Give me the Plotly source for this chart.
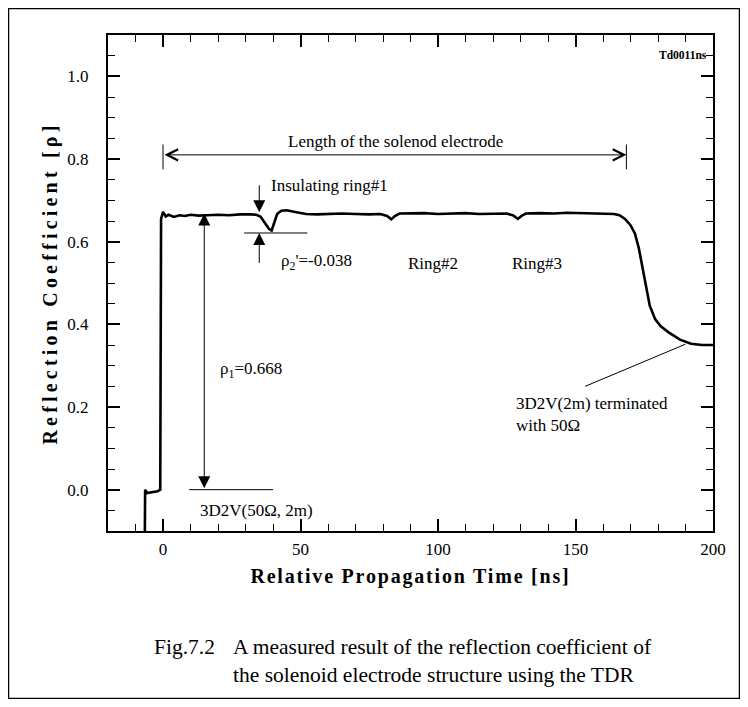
import plotly.graph_objects as go

# ---- data ----
time_ns = [-6.6, -6.5, -5.8, -4.0, -2.0, -1.0, -0.8, -0.7, 0.0, 1.0, 2.0, 4.0, 6.0, 8.0,
           10.0, 13.0, 16.0, 20.0, 24.0, 28.0, 32.0, 34.0, 35.5, 37.0, 38.5, 39.5, 40.5,
           41.5, 43.0, 45.0, 48.0, 52.0, 56.0, 60.0, 65.0, 70.0, 75.0, 79.0, 81.5, 83.0,
           84.3, 86.0, 90.0, 95.0, 100.0, 105.0, 110.0, 115.0, 120.0, 125.0, 127.5, 129.0,
           130.5, 132.0, 137.0, 142.0, 147.0, 152.0, 157.0, 161.0, 164.0, 166.0, 168.0,
           170.0, 171.6, 173.0, 174.3, 175.5, 177.0, 179.0, 181.0, 184.0, 188.0, 192.0,
           196.0, 200.0]
rho = [-0.1, 0.0, -0.008, -0.006, -0.004, 0.0, 0.3, 0.655, 0.672, 0.661, 0.665, 0.660,
       0.664, 0.662, 0.665, 0.663, 0.664, 0.665, 0.664, 0.666, 0.666, 0.665, 0.660, 0.646,
       0.631, 0.627, 0.645, 0.667, 0.675, 0.676, 0.672, 0.667, 0.666, 0.667, 0.668, 0.667,
       0.666, 0.667, 0.662, 0.654, 0.662, 0.668, 0.668, 0.669, 0.667, 0.668, 0.669, 0.667,
       0.668, 0.668, 0.663, 0.655, 0.663, 0.668, 0.669, 0.668, 0.670, 0.669, 0.669, 0.668,
       0.667, 0.664, 0.655, 0.640, 0.620, 0.585, 0.540, 0.490, 0.445, 0.412, 0.395, 0.380,
       0.363, 0.353, 0.350, 0.350]

rho1 = 0.668            # measured reflection of the solenoid section
rho2_dip = -0.038       # dip at insulating ring #1
solenoid_end_ns = 168.5  # end of the solenoid electrode
x_ticks = [0, 50, 100, 150, 200]
y_ticks = [0.0, 0.2, 0.4, 0.6, 0.8, 1.0]

SERIF = "Liberation Serif"
ring1_level = rho1 - 0.047

fig = go.Figure()
fig.add_trace(go.Scatter(x=time_ns, y=rho, mode="lines",
                         line=dict(color="black", width=2.6), showlegend=False,
                         hoverinfo="skip"))

axis_common = dict(showline=True, linecolor="black", linewidth=2, mirror="ticks",
                   ticks="inside", tickcolor="black", tickwidth=1.5, ticklen=12,
                   showgrid=False, zeroline=False,
                   tickfont=dict(family=SERIF, size=17, color="black"))

fig.update_xaxes(range=[-20, 200], tickvals=x_ticks, ticklabelstandoff=2,
                 minor=dict(dtick=10, tick0=0, ticks="inside", ticklen=7, tickwidth=1.2,
                            tickcolor="black"),
                 title=dict(text='<span style="letter-spacing:1.8px">Relative Propagation Time [ns]</span>',
                            font=dict(family=SERIF, size=20, color="black", weight="bold"),
                            standoff=11),
                 **axis_common)
fig.update_yaxes(range=[-0.1, 1.1], tickvals=y_ticks, tickformat=".1f", ticklabelstandoff=14,
                 minor=dict(dtick=0.05, tick0=0, ticks="inside", ticklen=7, tickwidth=1.2,
                            tickcolor="black"),
                 title=dict(text='<span style="letter-spacing:4.2px">Reflection Coefficient [ρ]</span>',
                            font=dict(family=SERIF, size=20, color="black", weight="bold"),
                            standoff=4),
                 **axis_common)

ann_font = dict(family=SERIF, size=17, color="black")
annotations = [
    # length of the solenoid electrode
    dict(x=solenoid_end_ns, y=0.81, ax=0, ay=0.81, xref="x", yref="y", axref="x", ayref="y",
         text="", showarrow=True, arrowside="end+start", arrowhead=5, startarrowhead=5,
         arrowsize=2.2, startarrowsize=2.2, arrowwidth=1, arrowcolor="black"),
    dict(x=84.5, y=0.843, xref="x", yref="y", text="Length of the solenod electrode",
         showarrow=False, font=ann_font),
    # insulating ring #1
    dict(x=35, y=rho1 + 0.003, ax=35, ay=0.74, xref="x", yref="y", axref="x", ayref="y",
         text="", showarrow=True, arrowhead=2, arrowsize=2.4, arrowwidth=1, arrowcolor="black"),
    dict(x=35, y=ring1_level, ax=35, ay=0.545, xref="x", yref="y", axref="x", ayref="y",
         text="", showarrow=True, arrowhead=2, arrowsize=2.4, arrowwidth=1, arrowcolor="black"),
    dict(x=38.5, y=0.735, xref="x", yref="y", text="Insulating ring#1", xanchor="left",
         showarrow=False, font=ann_font),
    dict(x=42, y=0.55, xref="x", yref="y", text=f"ρ<sub>2</sub>'={rho2_dip:.3f}",
         xanchor="left", showarrow=False, font=ann_font),
    dict(x=98, y=0.547, xref="x", yref="y", text="Ring#2", showarrow=False, font=ann_font),
    dict(x=136, y=0.547, xref="x", yref="y", text="Ring#3", showarrow=False, font=ann_font),
    # rho1 double arrow
    dict(x=15, y=rho1, ax=15, ay=0.0, xref="x", yref="y", axref="x", ayref="y",
         text="", showarrow=True, arrowside="end+start", arrowhead=2, startarrowhead=2,
         arrowsize=2.4, startarrowsize=2.4, arrowwidth=1, arrowcolor="black"),
    dict(x=20, y=0.29, xref="x", yref="y", text=f"ρ<sub>1</sub>={rho1:.3f}",
         xanchor="left", showarrow=False, font=ann_font),
    dict(x=34, y=-0.05, xref="x", yref="y", text="3D2V(50Ω, 2m)", showarrow=False,
         font=ann_font),
    dict(x=127.5, y=0.208, xref="x", yref="y", text="3D2V(2m) terminated<br>with 50Ω",
         xanchor="left", yanchor="top", align="left", showarrow=False, font=ann_font,
         yshift=12),
    dict(x=1, y=1.052, xref="paper", yref="y", text="<b>Td0011ns</b>", xanchor="right",
         xshift=-4, showarrow=False, font=dict(family=SERIF, size=11.5, color="black")),
    # caption
    dict(x=0.0727, y=-0.206, xref="paper", yref="paper", text="Fig.7.2", xanchor="left",
         yanchor="top", showarrow=False, font=dict(family=SERIF, size=21.5, color="black")),
    dict(x=0.2033, y=-0.206, xref="paper", yref="paper",
         text="A measured result of the reflection coefficient of<br>the solenoid electrode structure using the TDR",
         xanchor="left", yanchor="top", align="left", showarrow=False,
         font=dict(family=SERIF, size=21.5, color="black")),
]

line_style = dict(color="black", width=1)
shapes = [
    dict(type="line", xref="x", yref="y", x0=0, x1=0, y0=0.775, y1=0.835, line=line_style),
    dict(type="line", xref="x", yref="y", x0=solenoid_end_ns, x1=solenoid_end_ns,
         y0=0.775, y1=0.835, line=line_style),
    dict(type="line", xref="x", yref="y", x0=9.5, x1=40, y0=0.0, y1=0.0, line=line_style),
    dict(type="line", xref="x", yref="y", x0=29.5, x1=52.5, y0=ring1_level, y1=ring1_level,
         line=line_style),
    dict(type="line", xref="x", yref="y", x0=153.5, x1=190, y0=0.25, y1=0.352,
         line=line_style),
    # outer frame of the figure
    dict(type="rect", xref="paper", yref="paper", x0=-0.1645, x1=1.0438, y0=-0.3377,
         y1=1.0534, line=dict(color="black", width=1.5)),
]

# page body adds an 8px margin, so the figure is 16px smaller than the window
fig.update_layout(template="none", width=732, height=691,
                  margin=dict(l=100, r=27, t=27, b=168),
                  paper_bgcolor="white", plot_bgcolor="white",
                  annotations=annotations, shapes=shapes, showlegend=False)

fig.write_html("out.html")
